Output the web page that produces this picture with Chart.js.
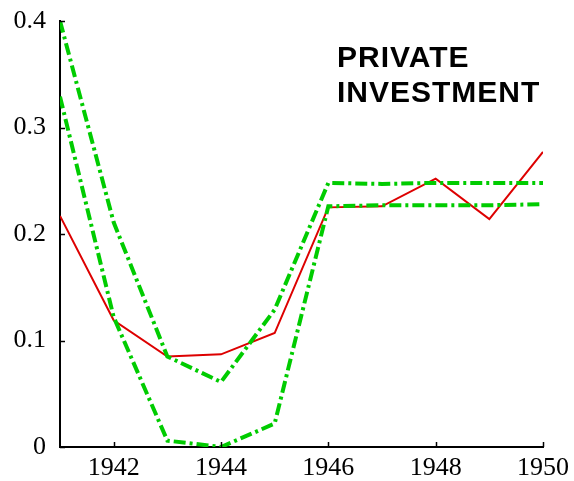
<!DOCTYPE html>
<html>
<head>
<meta charset="utf-8">
<script src="https://cdn.jsdelivr.net/npm/chart.js@4"></script>
<style>
  html, body { margin: 0; padding: 0; background: #fff; }
  #wrap { width: 574px; height: 481px; }
</style>
</head>
<body>
<div id="wrap"><canvas id="chart" width="574" height="481"></canvas></div>
<script>
// years on the x axis
var years = [1941, 1942, 1943, 1944, 1945, 1946, 1947, 1948, 1949, 1950];
// red solid line
var actual = [0.217, 0.119, 0.085, 0.087, 0.107, 0.225, 0.226, 0.252, 0.214, 0.277];
// green dash-dot bands
var upperBand = [0.400, 0.211, 0.085, 0.061, 0.129, 0.248, 0.247, 0.248, 0.248, 0.248];
var lowerBand = [0.329, 0.122, 0.006, 0.000, 0.022, 0.226, 0.227, 0.227, 0.227, 0.228];
var xTicks = [1942, 1944, 1946, 1948, 1950];
var yTicks = [0, 0.1, 0.2, 0.3, 0.4];
var titleLines = ["PRIVATE", "INVESTMENT"];

function toPoints(vals) {
  return vals.map(function (v, i) { return { x: years[i], y: v }; });
}

var dashDot = [12, 4, 3, 4];

// small tick marks drawn inward, plus the title text
var extras = {
  id: 'extras',
  afterDraw: function (chart) {
    var ctx = chart.ctx;
    var xs = chart.scales.x, ys = chart.scales.y;
    ctx.save();
    ctx.strokeStyle = '#000';
    ctx.lineWidth = 1.5;
    xTicks.forEach(function (t) {
      var px = Math.round(xs.getPixelForValue(t)) + 0.5;
      ctx.beginPath();
      ctx.moveTo(px, ys.bottom);
      ctx.lineTo(px, ys.bottom - 5);
      ctx.stroke();
    });
    yTicks.forEach(function (t) {
      var py = Math.round(ys.getPixelForValue(t)) + 0.5;
      ctx.beginPath();
      ctx.moveTo(xs.left, py);
      ctx.lineTo(xs.left + 5, py);
      ctx.stroke();
    });
    ctx.fillStyle = '#000';
    ctx.font = 'bold 30px "Liberation Sans", Arial, sans-serif';
    ctx.letterSpacing = '1px';
    ctx.textAlign = 'left';
    ctx.textBaseline = 'alphabetic';
    ctx.fillText(titleLines[0], 337, 67);
    ctx.fillText(titleLines[1], 337, 102);
    ctx.restore();
  }
};

new Chart(document.getElementById('chart'), {
  type: 'line',
  data: {
    datasets: [
      {
        label: 'upper',
        data: toPoints(upperBand),
        borderColor: '#00cc00',
        borderWidth: 4,
        borderDash: dashDot,
        pointRadius: 0,
        tension: 0,
        fill: false
      },
      {
        label: 'lower',
        data: toPoints(lowerBand),
        borderColor: '#00cc00',
        borderWidth: 4,
        borderDash: dashDot,
        pointRadius: 0,
        tension: 0,
        fill: false
      },
      {
        label: 'actual',
        data: toPoints(actual),
        borderColor: '#dd0000',
        borderWidth: 2,
        pointRadius: 0,
        tension: 0,
        fill: false
      }
    ]
  },
  options: {
    responsive: false,
    animation: false,
    layout: { padding: { top: 21, right: 31, left: 0, bottom: 0 } },
    plugins: {
      legend: { display: false },
      tooltip: { enabled: false },
      title: { display: false }
    },
    scales: {
      x: {
        type: 'linear',
        min: 1941,
        max: 1950,
        afterBuildTicks: function (axis) {
          axis.ticks = xTicks.map(function (v) { return { value: v }; });
        },
        afterFit: function (axis) {
          axis.height = 34;
          axis.paddingLeft = 0;
          axis.paddingRight = 0;
        },
        grid: { display: false, drawTicks: false },
        border: { display: true, color: '#000', width: 2 },
        ticks: {
          color: '#000',
          padding: 6,
          maxRotation: 0,
          font: { family: '"Liberation Serif", "Times New Roman", serif', size: 26 },
          callback: function (v) { return String(v); }
        }
      },
      y: {
        type: 'linear',
        min: 0,
        max: 0.4,
        afterBuildTicks: function (axis) {
          axis.ticks = yTicks.map(function (v) { return { value: v }; });
        },
        afterFit: function (axis) {
          axis.width = 60;
          axis.paddingTop = 0;
          axis.paddingBottom = 0;
        },
        grid: { display: false, drawTicks: false },
        border: { display: true, color: '#000', width: 2 },
        ticks: {
          color: '#000',
          padding: 14,
          font: { family: '"Liberation Serif", "Times New Roman", serif', size: 26 },
          callback: function (v) { return v === 0 ? '0' : v.toFixed(1); }
        }
      }
    }
  },
  plugins: [extras]
});
</script>
</body>
</html>
